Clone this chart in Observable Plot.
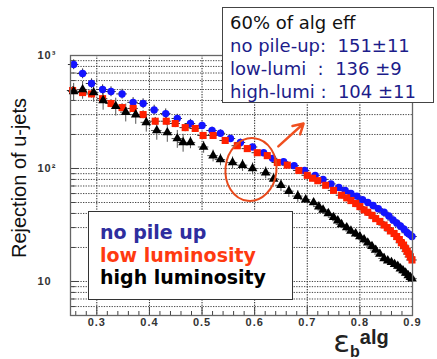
<!DOCTYPE html>
<html><head><meta charset="utf-8">
<script src="https://cdn.jsdelivr.net/npm/d3@7"></script>
<script src="https://cdn.jsdelivr.net/npm/@observablehq/plot@0.6"></script>
<style>
body{margin:0;background:#fff;}
#wrap{position:relative;width:437px;height:359px;overflow:hidden;background:#fff;}
.box{position:absolute;background:#fff;box-sizing:border-box;white-space:pre;}
#legend{left:88px;top:211px;width:205px;height:89px;border:1.5px solid #333;padding:9px 0 0 11px;font:bold 19px/22.5px "DejaVu Sans",sans-serif;}
#anno{left:222px;top:7px;width:212px;height:96px;border:1.5px solid #444;padding:3px 0 0 7px;font:18px/23px "DejaVu Sans",sans-serif;color:#1c1c8a;}
</style></head><body><div id="wrap"></div>
<script>
// ---- data ----
const xBlue = [0.256,0.273,0.29,0.311,0.327,0.348,0.369,0.388,0.409,0.431,0.453,0.478,0.50,0.519,0.535,0.554,0.573,0.596,0.617,0.634,0.655,0.675,0.695,0.715,0.73,0.745,0.76,0.772,0.783,0.794,0.805,0.815,0.825,0.835,0.846,0.855,0.863,0.87,0.877,0.884,0.89,0.895,0.899];
const yBlue = [832,692,565,500,480,457,385,376,330,306,277,250,240,217,205,184,170,155,138,123,115,106,96,87,80,73,68,64,60,57,53,50,47,44,41,38,35,33,31,29,27,26,25];
const eBlue = [0.1,0.1,0.1,0.1,0.1,0.1,0.1,0.1,0.1,0.1,0.09,0.09,0.07,0.07,0.07,0.07,0.07,0.06,0.06,0.06,0.05,0.05,0.04,0.04,0.04,0.04,0.04,0.04,0.04,0.04,0.04,0.04,0.04,0.04,0.04,0.04,0.04,0.04,0.04,0.04,0.04,0.04,0.04];

const xRed = [0.254,0.273,0.29,0.311,0.327,0.348,0.369,0.388,0.411,0.432,0.449,0.468,0.487,0.502,0.521,0.544,0.567,0.586,0.605,0.624,0.643,0.662,0.684,0.70,0.71,0.72,0.735,0.75,0.765,0.775,0.783,0.792,0.80,0.808,0.815,0.823,0.83,0.838,0.846,0.852,0.858,0.865,0.87,0.875,0.879,0.883,0.887,0.89,0.893,0.896,0.899];
const yRed = [490,470,457,415,376,346,340,300,262,262,250,230,226,196,196,177,159,150,138,130,113,107,96,87,82,78,71,64,58,55,52,49,46,43,41,38.5,36,34,31.6,30,28,26.6,25,23.5,22,21,19.5,18.5,17.5,16.5,15.5];
const eRed = [0.08,0.08,0.08,0.08,0.08,0.08,0.08,0.08,0.08,0.08,0.08,0.08,0.05,0.05,0.05,0.05,0.05,0.05,0.05,0.05,0.05,0.05,0.05,0.05,0.03,0.03,0.03,0.03,0.03,0.03,0.03,0.03,0.03,0.03,0.03,0.03,0.03,0.03,0.03,0.03,0.03,0.03,0.03,0.03,0.03,0.03,0.03,0.03,0.03,0.03,0.03];

const xBlack = [0.256,0.273,0.294,0.312,0.336,0.355,0.374,0.394,0.414,0.434,0.453,0.464,0.478,0.503,0.521,0.535,0.558,0.577,0.596,0.621,0.636,0.65,0.665,0.682,0.697,0.712,0.722,0.73,0.74,0.75,0.758,0.765,0.775,0.783,0.792,0.80,0.808,0.815,0.823,0.83,0.838,0.846,0.853,0.86,0.866,0.872,0.877,0.882,0.887,0.892,0.896,0.899];
const yBlack = [480,500,470,400,355,315,300,256,217,208,184,170,170,155,130,120,113,107,100,92,81,71,63,57,53,50,46,43,40,37,34.5,32,30,28,26.5,25,23.5,22,20.5,19,17.5,16,15.3,14.8,14.2,13.7,13,12.5,11.9,11.3,10.9,10.6];
const eBlack = [0.18,0.18,0.18,0.18,0.18,0.18,0.18,0.18,0.18,0.18,0.18,0.18,0.12,0.12,0.12,0.12,0.12,0.12,0.12,0.12,0.12,0.12,0.12,0.12,0.07,0.07,0.07,0.07,0.07,0.07,0.07,0.07,0.07,0.07,0.07,0.07,0.07,0.07,0.07,0.07,0.07,0.07,0.07,0.07,0.07,0.07,0.07,0.07,0.07,0.07,0.07,0.07];

const xErrHalf = 0.01;
const xTicks = [0.3,0.4,0.5,0.6,0.7,0.8,0.9];
const xMinorTicks = [0.26,0.28,0.32,0.34,0.36,0.38,0.42,0.44,0.46,0.48,0.52,0.54,0.56,0.58,0.62,0.64,0.66,0.68,0.72,0.74,0.76,0.78,0.82,0.84,0.86,0.88];
const yTicks = [10,100,1000];
const yTickLabels = ["10","10²","10³"];
const yGrid = [6,7,8,9,10,20,30,40,50,60,70,80,90,100,200,300,400,500,600,700,800,900];
const legendLabels = ["no pile up","low luminosity","high luminosity"];
const annoLines = ["60% of alg eff","no pile-up:  151±11","low-lumi  :  136 ±9","high-lumi :  104 ±11"];
const ellipseAt = [{x:0.593, y:98}];
const arrowAt = [{x1:0.645, y1:157, x2:0.693, y2:250}];

// ---- build ----
const mk = (xs, ys, es) => xs.map((x,i)=>({x, y:ys[i], e:es[i]}));
const blue = mk(xBlue,yBlue,eBlue), red = mk(xRed,yRed,eRed), black = mk(xBlack,yBlack,eBlack);

const ellipseSymbol = {draw(ctx){const rx=25.5, ry=31.5, k=0.5523;
  ctx.moveTo(rx,0);
  ctx.bezierCurveTo(rx,ry*k,rx*k,ry,0,ry);
  ctx.bezierCurveTo(-rx*k,ry,-rx,ry*k,-rx,0);
  ctx.bezierCurveTo(-rx,-ry*k,-rx*k,-ry,0,-ry);
  ctx.bezierCurveTo(rx*k,-ry,rx,-ry*k,rx,0);
  ctx.closePath();}};

const errMarks = (data, col) => [
  Plot.ruleX(data, {x:"x", y1:d=>d.y*(1-d.e), y2:d=>d.y*(1+d.e), stroke:col, strokeWidth:1}),
  Plot.ruleY(data, {y:"y", x1:d=>d.x-xErrHalf, x2:d=>d.x+xErrHalf, stroke:col, strokeWidth:1})
];

const plot = Plot.plot({
  width:437, height:359,
  marginLeft:70, marginRight:25, marginTop:55, marginBottom:44,
  style:{fontFamily:"'Liberation Sans', Arial, sans-serif", background:"transparent"},
  x:{domain:[0.25,0.9], axis:null},
  y:{type:"log", domain:[5,1000], axis:null},
  marks:[
    Plot.gridX(xTicks, {stroke:"#222", strokeOpacity:1, strokeWidth:1, strokeDasharray:"1.3,1.3"}),
    Plot.gridY(yGrid, {stroke:"#333", strokeOpacity:0.9, strokeWidth:1, strokeDasharray:"1.3,1.3"}),
    Plot.tickX(xMinorTicks, {x:d=>d, insetTop:256, stroke:"#444"}),
    Plot.tickX(xTicks, {x:d=>d, insetTop:252, stroke:"#444"}),
    Plot.tickY(yGrid, {y:d=>d, insetRight:337, stroke:"#444"}),
    Plot.tickY(yTicks, {y:d=>d, insetRight:333, stroke:"#444"}),
    ...errMarks(blue, "#333"),
    ...errMarks(red, "#333"),
    ...errMarks(black, "#555"),
    Plot.dot(blue, {x:"x", y:"y", symbol:"circle", r:3.7, fill:"#1414ff"}),
    Plot.dot(red, {x:"x", y:"y", symbol:"square", r:4, fill:"#ff2000"}),
    Plot.dot(black, {x:"x", y:"y", symbol:"triangle", r:3.6, fill:"#000"}),
    Plot.dot(ellipseAt, {x:"x", y:"y", symbol:ellipseSymbol, rotate:6, stroke:"#e84a1c", strokeWidth:2, fill:"none"}),
    Plot.arrow(arrowAt, {x1:"x1", y1:"y1", x2:"x2", y2:"y2", stroke:"#f05020", strokeWidth:2.5, headLength:9}),
    Plot.frame({stroke:"#666", strokeWidth:1.3}),
    Plot.text(xTicks, {x:d=>d, text:d=>d.toFixed(1), frameAnchor:"bottom", dy:10, fontWeight:"bold", fontSize:11, fill:"#333"}),
    Plot.text(yTicks, {y:d=>d, text:(d,i)=>yTickLabels[i], frameAnchor:"left", dx:-33, textAnchor:"start", fontWeight:"bold", fontSize:11, fill:"#333"})
  ]
});
const wrap = document.getElementById("wrap");
wrap.appendChild(plot);

const svg = d3.select(plot);
svg.selectAll('g[aria-label="text"] text').attr("letter-spacing", "1px");
// y label
svg.append("text").attr("transform","translate(26,178) rotate(-90)")
  .attr("text-anchor","middle").attr("font-family","'Liberation Sans', Arial, sans-serif")
  .attr("font-size",20).attr("fill","#111").text("Rejection of u-jets");
// x label  ε_b^alg
const xl = svg.append("text").attr("x",361).attr("y",352).attr("fill","#222");
xl.append("tspan").attr("font-family","'DejaVu Sans', sans-serif").attr("font-size",31).text("ε");
xl.append("tspan").attr("font-family","'Liberation Sans', Arial, sans-serif").attr("font-weight","bold").attr("font-size",16).attr("dy",5).text("b");
xl.append("tspan").attr("font-family","'Liberation Sans', Arial, sans-serif").attr("font-weight","bold").attr("font-size",20).attr("dy",-13).text("alg");

// legend box
const lg = document.createElement("div"); lg.id="legend"; lg.className="box";
const lcols = ["#2e2e9e","#ff3a10","#000"];
legendLabels.forEach((t,i)=>{const d=document.createElement("div"); d.textContent=t; d.style.color=lcols[i]; lg.appendChild(d);});
wrap.appendChild(lg);
// annotation box
const an = document.createElement("div"); an.id="anno"; an.className="box";
annoLines.forEach((t,i)=>{const d=document.createElement("div"); d.textContent=t; if(i===0) d.style.color="#111"; an.appendChild(d);});
wrap.appendChild(an);
</script>
</body></html>
